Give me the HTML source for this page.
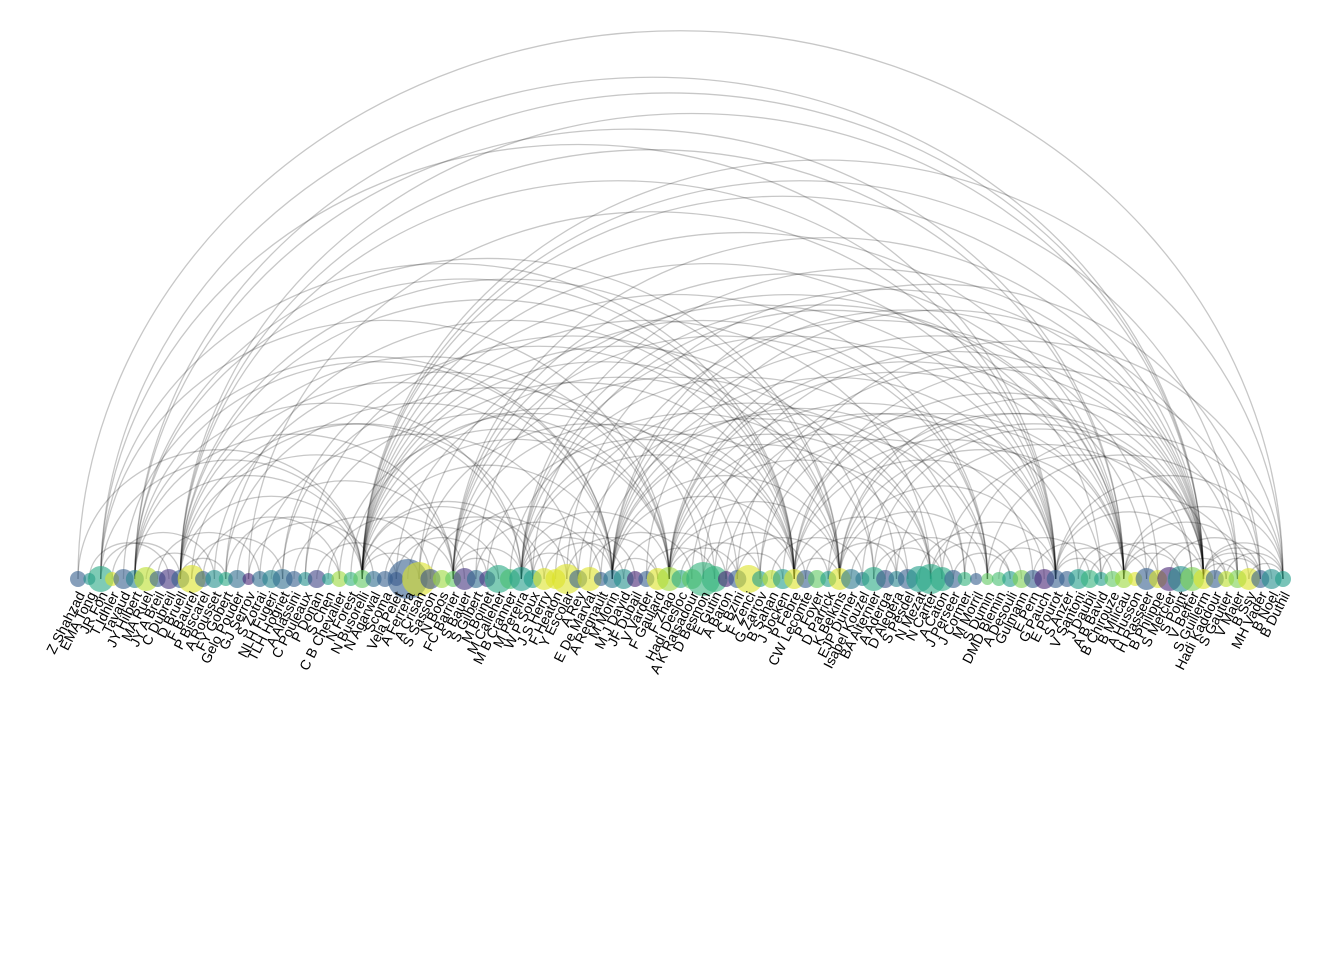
<!DOCTYPE html>
<html><head><meta charset="utf-8">
<style>html,body{margin:0;padding:0;background:#fff;}svg{display:block;}</style>
</head><body>
<svg id="chart" width="1344" height="960" viewBox="0 0 1344 960" xmlns="http://www.w3.org/2000/svg">
<g id="arcs"></g>
<g id="nodes"></g>
<g id="labels"></g>
</svg>
<script>
const names = ["Z Shahzad","EMA Tong","JR Fon","T Idhler","Tavaud","JY Hilbert","MA Ruel","JY A Breil","C Dubreil","D Bruell",
"F Baurel","P Biscarel","A Rousset","FY Gobert","Gelo Pouder","GJ Serrov","S Zotrai","NLH Fugeri","TLH Hogriet","A Alassini",
"C Pouleaux","P Donan","S Chen","C B Chevalier","N Forest","N Busorelli","N Agarwal","Scoma","Vela Pelet","A Ferrera",
"A Crisan","S Sasson","N Boos","FC Barrier","S Bauer","S Gilbert","M Boinet","M Calleher","M B Cranner","M Pereira",
"W P Soux","J S Herry","F Heaton","Y Escolar","A Rey","E De Marval","A Regnault","M Morin","M J David","JF Dubail",
"V Varder","F Gaulard","F Zhao","Hadi Desloc","A K Ratsadour","D Besmon","E Gutin","A Baron","C Bzini","F Zenci",
"G Zarrov","B Sahan","J Jocken","P Febre","CW Lecomte","P Foyer","D Parrick","K Belkins","EJP Durner","Isabel Kouzel",
"BA Alternier","A Aderga","D Alegera","S Pesdel","N Mezat","N Carter","A Caton","J Perseer","J Cormer","M Morril",
"S Dumin","DMD Blemin","A Desouli","Gulmann","E Pern","G Pauch","E Pourot","S Anzer","V Santoni","J Daubil",
"A B Bavid","B Chirouze","B Milicau","A Husson","H Rasseer","B Philippe","S Mercier","S Point","V Beffer","S Guillerm",
"Hadi Kaddour","S Gautier","V Maier","B Ssy","MH Vader","B Noel","B Duthil"];
const nodeSize = [8,6,13,7,10,9,12,8,10,9,
14,8,9,7,9,6,8,9,10,8,
7,9,6,8,7,9,8,8,7,20,
17,10,9,8,11,9,8,14,10,12,
9,11,10,15,9,12,7,9,10,8,
8,11,12,9,10,17,13,8,9,14,
8,9,10,10,9,9,8,11,10,7,
12,9,8,10,13,15,12,9,7,6,
6,7,8,9,9,10,9,8,10,9,
7,8,9,7,11,9,12,13,12,10,
9,8,9,11,9,10,8];
const nodeColor = [0.3,0.5,0.6,0.95,0.3,0.45,0.9,0.3,0.15,0.3,
0.95,0.3,0.5,0.6,0.35,0.1,0.35,0.45,0.35,0.3,
0.5,0.2,0.55,0.85,0.65,0.75,0.35,0.3,0.25,0.3,
0.95,0.25,0.85,0.75,0.15,0.35,0.15,0.6,0.7,0.55,
0.55,0.95,0.95,0.95,0.3,0.95,0.3,0.4,0.5,0.1,
0.3,0.95,0.85,0.6,0.75,0.65,0.65,0.1,0.3,0.95,
0.55,0.9,0.55,0.95,0.3,0.75,0.55,0.95,0.4,0.4,
0.6,0.25,0.45,0.3,0.55,0.6,0.6,0.3,0.65,0.3,
0.75,0.7,0.55,0.8,0.3,0.1,0.3,0.3,0.55,0.65,
0.55,0.75,0.85,0.95,0.3,0.95,0.1,0.5,0.8,0.95,
0.3,0.9,0.8,0.95,0.3,0.5,0.55];
const edges = [[0,106],[2,99],[5,99],[9,99],[2,86],[25,99],[5,92],[9,86],[25,86],[25,92],[25,106],[33,99],[39,99],[47,99],[52,99],[25,67],[25,63],[9,67],[5,63],[9,52],[25,52],[25,47],[33,86],[47,86],[52,86],[63,99],[67,99],[47,92],[39,86],[2,52],[5,33],[9,39],[13,47],[18,55],[25,40],[25,58],[25,75],[25,80],[33,63],[33,72],[39,67],[39,78],[47,73],[47,80],[52,75],[52,94],[57,84],[63,90],[63,104],[67,85],[67,102],[72,98],[76,100],[80,104],[86,102],[86,106],[92,103],[92,106],[99,104],[99,105],[99,106],
[3,12],[7,16],[11,23],[15,26],[19,31],[22,34],[27,37],[29,41],[31,43],[35,46],[40,49],[43,51],[45,54],[48,57],[53,60],[55,64],[58,66],[61,69],[64,72],[68,77],[71,79],[74,83],[77,82],[81,89],[84,91],[88,95],[90,97],[94,101],[96,104],[101,106],
[1,8],[6,11],[10,18],[17,23],[21,28],[25,30],[28,36],[33,37],[39,44],[41,48],[47,51],[50,56],[52,58],[57,62],[63,67],[66,73],[70,76],[75,82],[80,86],[86,90],[89,94],[92,97],[97,101],[100,104],[103,106],
[2,25],[9,25],[25,39],[47,63],[52,67],[67,80],[86,99],[92,99],[5,25],[9,33],[33,47],[39,52],[47,67],[9,47],[5,39],[13,63],[20,67],[15,86],[40,92],[55,99],[60,106],[30,80],[45,95],[35,90],[50,102],[58,99],[70,99],[12,52],[18,63],[28,67],
[0,25],[4,47],[14,33],[23,52],[36,63],[44,75],[54,86],[62,92],[69,99],[78,106],[25,33],[33,39],[39,47],[52,63],[63,75],[75,86],[86,92],[2,9],[9,13],[99,102],
[5,67],[9,92],[25,102],[33,92],[39,92],[43,99],[47,104],[52,92],[2,63],[5,47],[9,63],[13,25],[20,52],[25,70],[33,80],[39,63],[47,75],[52,80],[63,86],[67,92],[10,40],[16,44],[24,56],[30,60],[38,70],[42,76],[46,78],[56,88],[60,92],[66,98]];
const N = names.length;
const X0 = 78, X1 = 1283, BASE = 579, YSCALE = 0.91;
function xPos(i){ return X0 + (X1 - X0) * i / (N - 1); }
const vir = [[68,1,84],[72,40,120],[62,74,137],[49,104,142],[38,130,142],[31,158,137],[53,183,121],[109,205,89],[180,222,44],[253,231,37]];
function viridis(t){ t=Math.max(0,Math.min(1,t))*(vir.length-1); const i=Math.min(Math.floor(t),vir.length-2), f=t-i;
  const c=vir[i].map((v,k)=>Math.round(v+(vir[i+1][k]-v)*f)); return `rgb(${c[0]},${c[1]},${c[2]})`; }
const NS="http://www.w3.org/2000/svg";
const arcs=document.getElementById('arcs'), nodes=document.getElementById('nodes'), labels=document.getElementById('labels');
edges.forEach(([a,b])=>{
  const xa=xPos(Math.min(a,b)), xb=xPos(Math.max(a,b)), r=(xb-xa)/2;
  const p=document.createElementNS(NS,'path');
  p.setAttribute('d',`M${xa},${BASE} A${r},${r*YSCALE} 0 0 1 ${xb},${BASE}`);
  p.setAttribute('fill','none'); p.setAttribute('stroke','#000'); p.setAttribute('stroke-opacity','0.22'); p.setAttribute('stroke-width','1.3');
  
  
  arcs.appendChild(p);
});
names.forEach((n,i)=>{
  const c=document.createElementNS(NS,'circle');
  c.setAttribute('cx',xPos(i)); c.setAttribute('cy',BASE); c.setAttribute('r',nodeSize[i]);
  c.setAttribute('fill',viridis(nodeColor[i])); c.setAttribute('fill-opacity','0.6');
  
  
  nodes.appendChild(c);
  const t=document.createElementNS(NS,'text');
  const x=xPos(i)+4, y=593;
  t.setAttribute('x',x); t.setAttribute('y',y);
  t.setAttribute('transform',`rotate(-63 ${x} ${y})`);
  t.setAttribute('text-anchor','end'); t.setAttribute('dominant-baseline','middle');
  t.setAttribute('font-family','"Liberation Sans", sans-serif'); t.setAttribute('font-size','14');
  t.textContent=n;
  
  
  labels.appendChild(t);
});
</script>
</body></html>
